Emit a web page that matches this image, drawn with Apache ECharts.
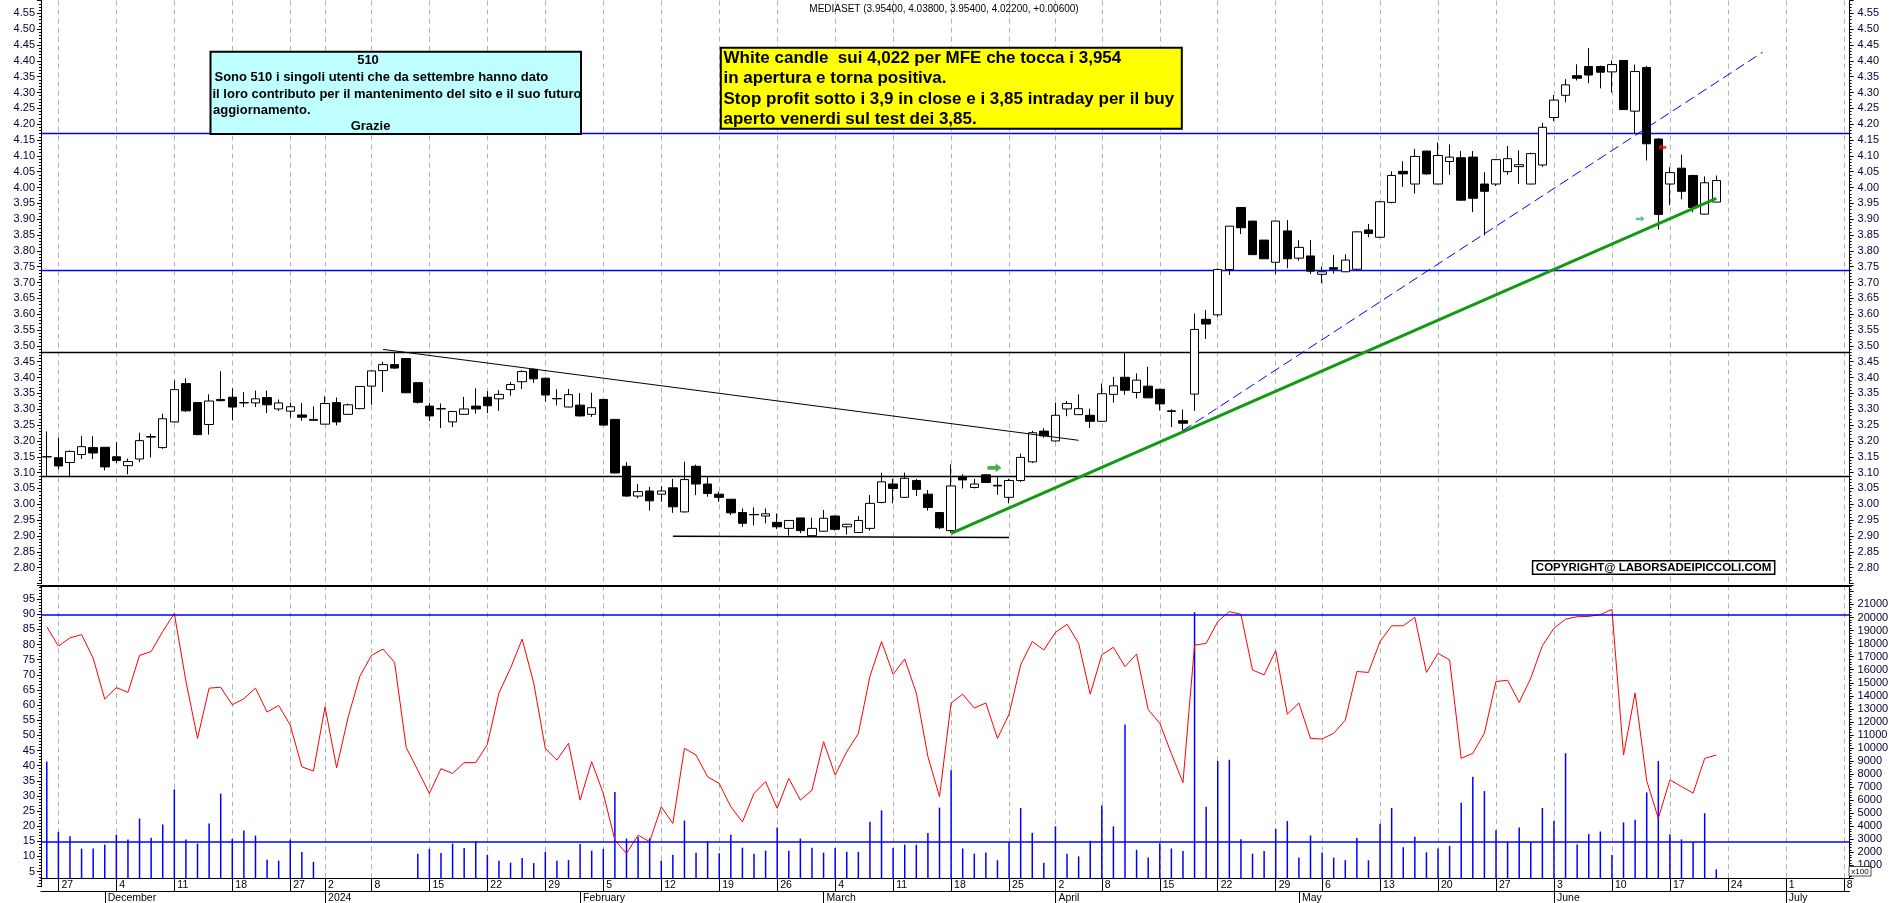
<!DOCTYPE html>
<html>
<head>
<meta charset="utf-8">
<title>MEDIASET</title>
<script src="https://cdn.jsdelivr.net/npm/echarts@6.0.0/dist/echarts.min.js"></script>
<style>
html,body{margin:0;padding:0;background:#ffffff;overflow:hidden;}
#chart{width:1890px;height:903px;}
</style>
</head>
<body>
<div id="chart"></div>
<script>
// ---------------- DATA ----------------
const dates = [
'2023-11-24','2023-11-27','2023-11-28','2023-11-29','2023-11-30',
'2023-12-01','2023-12-04','2023-12-05','2023-12-06','2023-12-07','2023-12-08',
'2023-12-11','2023-12-12','2023-12-13','2023-12-14','2023-12-15',
'2023-12-18','2023-12-19','2023-12-20','2023-12-21','2023-12-22',
'2023-12-27','2023-12-28','2023-12-29',
'2024-01-02','2024-01-03','2024-01-04','2024-01-05',
'2024-01-08','2024-01-09','2024-01-10','2024-01-11','2024-01-12',
'2024-01-15','2024-01-16','2024-01-17','2024-01-18','2024-01-19',
'2024-01-22','2024-01-23','2024-01-24','2024-01-25','2024-01-26',
'2024-01-29','2024-01-30','2024-01-31','2024-02-01','2024-02-02',
'2024-02-05','2024-02-06','2024-02-07','2024-02-08','2024-02-09',
'2024-02-12','2024-02-13','2024-02-14','2024-02-15','2024-02-16',
'2024-02-19','2024-02-20','2024-02-21','2024-02-22','2024-02-23',
'2024-02-26','2024-02-27','2024-02-28','2024-02-29','2024-03-01',
'2024-03-04','2024-03-05','2024-03-06','2024-03-07','2024-03-08',
'2024-03-11','2024-03-12','2024-03-13','2024-03-14','2024-03-15',
'2024-03-18','2024-03-19','2024-03-20','2024-03-21','2024-03-22',
'2024-03-25','2024-03-26','2024-03-27','2024-03-28',
'2024-04-02','2024-04-03','2024-04-04','2024-04-05',
'2024-04-08','2024-04-09','2024-04-10','2024-04-11','2024-04-12',
'2024-04-15','2024-04-16','2024-04-17','2024-04-18','2024-04-19',
'2024-04-22','2024-04-23','2024-04-24','2024-04-25','2024-04-26',
'2024-04-29','2024-04-30','2024-05-02','2024-05-03',
'2024-05-06','2024-05-07','2024-05-08','2024-05-09','2024-05-10',
'2024-05-13','2024-05-14','2024-05-15','2024-05-16','2024-05-17',
'2024-05-20','2024-05-21','2024-05-22','2024-05-23','2024-05-24',
'2024-05-27','2024-05-28','2024-05-29','2024-05-30','2024-05-31',
'2024-06-03','2024-06-04','2024-06-05','2024-06-06','2024-06-07',
'2024-06-10','2024-06-11','2024-06-12','2024-06-13','2024-06-14',
'2024-06-17','2024-06-18','2024-06-19','2024-06-20','2024-06-21',
'2024-06-24','2024-06-25','2024-06-26','2024-06-27','2024-06-28',
'2024-07-01','2024-07-02','2024-07-03','2024-07-04','2024-07-05',
'2024-07-08'
];

const opens = [
3.150,3.147,3.132,3.157,3.179,3.180,3.150,3.122,3.143,3.212,
3.179,3.260,3.381,3.321,3.252,3.331,3.338,3.320,3.320,3.337,
3.301,3.294,3.282,3.265,3.253,3.321,3.284,3.302,3.373,3.422,
3.441,3.460,3.384,3.310,3.302,3.260,3.284,3.310,3.338,3.333,
3.362,3.387,3.426,3.398,3.334,3.307,3.313,3.284,3.331,3.268,
3.120,3.026,3.042,3.032,3.052,2.976,3.120,3.064,3.032,3.016,
2.974,2.968,2.963,2.943,2.924,2.957,2.901,2.915,2.963,2.929,
2.911,2.924,3.006,3.064,3.022,3.075,3.032,2.974,2.917,3.088,
3.053,3.093,3.060,3.022,3.075,3.134,3.231,3.200,3.301,3.283,
3.281,3.262,3.347,3.401,3.353,3.373,3.363,3.295,3.264,3.348,
3.584,3.598,3.741,3.937,3.894,3.834,3.764,3.863,3.777,3.784,
3.726,3.747,3.734,3.742,3.866,3.843,3.953,4.051,4.011,4.115,
4.011,4.082,4.094,4.096,4.011,4.011,4.050,4.066,4.011,4.071,
4.221,4.291,4.353,4.382,4.382,4.365,4.401,4.241,4.379,4.153,
4.011,4.061,4.038,3.916,3.954
];
const highs = [
3.230,3.210,3.170,3.215,3.215,3.180,3.196,3.144,3.226,3.223,
3.286,3.392,3.398,3.321,3.347,3.420,3.366,3.354,3.359,3.359,
3.331,3.321,3.320,3.309,3.341,3.337,3.318,3.373,3.422,3.450,
3.481,3.460,3.384,3.320,3.318,3.294,3.339,3.366,3.357,3.360,
3.386,3.423,3.428,3.400,3.363,3.364,3.351,3.352,3.332,3.268,
3.133,3.064,3.055,3.057,3.080,3.134,3.125,3.087,3.040,3.016,
2.987,2.990,2.987,2.971,2.950,2.957,2.957,2.982,2.964,2.938,
2.963,3.029,3.100,3.080,3.100,3.080,3.045,2.975,3.126,3.095,
3.080,3.095,3.090,3.080,3.160,3.232,3.240,3.321,3.326,3.347,
3.302,3.381,3.402,3.478,3.413,3.434,3.365,3.300,3.299,3.602,
3.613,3.745,3.878,3.937,3.894,3.834,3.894,3.897,3.834,3.834,
3.750,3.787,3.789,3.862,3.885,3.957,4.051,4.083,4.122,4.116,
4.142,4.136,4.115,4.115,4.048,4.090,4.131,4.117,4.110,4.204,
4.292,4.342,4.389,4.440,4.385,4.401,4.402,4.388,4.384,4.155,
4.064,4.104,4.040,4.035,4.038
];
const lows = [
3.090,3.110,3.085,3.143,3.143,3.107,3.130,3.095,3.133,3.148,
3.175,3.258,3.292,3.218,3.220,3.325,3.265,3.307,3.307,3.288,
3.295,3.274,3.264,3.263,3.252,3.249,3.282,3.300,3.314,3.355,
3.427,3.352,3.318,3.263,3.241,3.244,3.282,3.286,3.288,3.295,
3.343,3.364,3.383,3.324,3.312,3.306,3.277,3.276,3.248,3.097,
3.024,3.019,2.980,3.008,2.973,2.974,3.029,3.024,3.008,2.966,
2.929,2.933,2.940,2.922,2.901,2.909,2.900,2.914,2.917,2.904,
2.910,2.917,3.003,3.003,3.020,3.026,2.980,2.922,2.910,3.050,
3.050,3.068,3.030,3.003,3.070,3.130,3.210,3.198,3.278,3.282,
3.241,3.260,3.321,3.346,3.334,3.335,3.296,3.244,3.234,3.295,
3.522,3.592,3.724,3.853,3.788,3.775,3.727,3.745,3.769,3.727,
3.698,3.728,3.733,3.740,3.843,3.840,3.950,4.002,3.981,4.040,
4.010,4.040,3.958,3.922,3.849,4.005,4.040,4.011,4.010,4.065,
4.210,4.269,4.338,4.329,4.313,4.300,4.245,4.172,4.085,3.867,
3.944,3.963,3.922,3.915,3.954
];
const closes = [
3.150,3.121,3.167,3.182,3.162,3.118,3.138,3.135,3.201,3.214,
3.270,3.362,3.295,3.220,3.326,3.327,3.307,3.321,3.333,3.314,
3.320,3.308,3.275,3.268,3.318,3.260,3.314,3.372,3.421,3.441,
3.430,3.352,3.322,3.279,3.301,3.293,3.301,3.301,3.311,3.347,
3.378,3.419,3.396,3.345,3.333,3.346,3.279,3.305,3.250,3.099,
3.026,3.040,3.011,3.042,2.992,3.078,3.064,3.034,3.022,2.973,
2.940,2.967,2.970,2.929,2.949,2.917,2.924,2.956,2.921,2.937,
2.949,3.003,3.071,3.050,3.082,3.047,2.990,2.926,3.058,3.077,
3.064,3.069,3.058,3.075,3.148,3.226,3.216,3.281,3.318,3.302,
3.262,3.349,3.374,3.360,3.392,3.336,3.317,3.293,3.256,3.552,
3.569,3.741,3.878,3.873,3.788,3.775,3.894,3.775,3.811,3.736,
3.734,3.742,3.771,3.860,3.855,3.955,4.038,4.043,4.098,4.043,
4.101,4.096,3.960,3.966,3.988,4.088,4.091,4.072,4.107,4.190,
4.276,4.324,4.345,4.355,4.364,4.388,4.246,4.366,4.138,3.915,
4.047,3.988,3.937,4.015,4.022
];

// oscillator (left scale of the lower panel)
const oscillator = [
85.9,79.5,82.2,83.3,75.5,62.0,65.8,64.2,76.4,77.7,
84.3,90.3,67.9,49.0,65.6,65.9,60.1,62.1,65.6,57.7,
59.9,53.4,39.6,38.2,59.4,39.3,56.1,69.5,76.4,78.5,
74.1,46.0,38.5,30.8,39.0,37.4,41.0,41.0,47.0,64.0,
72.2,81.8,67.3,45.7,41.8,47.4,28.6,41.3,30.8,15.4,
11.0,17.0,14.9,26.4,20.9,45.7,43.5,36.3,34.1,26.4,
21.4,30.8,34.7,25.9,35.8,28.6,31.9,47.9,36.9,44.6,
50.6,69.5,81.0,70.2,75.2,64.0,43.0,29.8,60.7,63.6,
59.0,60.7,49.0,57.0,73.3,81.0,78.2,84.0,86.7,80.4,
63.6,76.6,79.1,72.7,76.9,58.5,54.0,44.0,34.4,79.8,
80.4,87.6,90.9,90.0,71.6,70.0,78.0,57.0,60.7,49.0,
48.8,50.7,55.0,71.1,70.8,81.0,86.2,86.2,89.0,70.8,
77.1,74.9,42.4,44.1,50.7,67.8,68.2,60.9,68.9,79.6,
85.4,88.4,89.2,89.3,89.9,91.6,43.5,64.0,35.0,22.6,
35.3,33.1,30.9,42.4,43.5
];

// volume (x100, right scale of the lower panel)
const volume = [
8970,3570,3240,2290,2290,2590,3360,2980,4600,3130,
4140,6830,2980,2670,4210,6500,3030,3670,3290,1440,
1360,2980,2030,1280,null,null,null,null,null,null,
null,null,1900,2260,1950,2670,2340,2850,1820,1360,
1210,1570,1180,2030,1360,1410,2650,2130,2260,6630,
3060,3180,3080,1360,1820,4440,1980,2850,1930,3360,
2360,1900,2130,3900,2130,3060,2360,1980,2340,2050,
2050,4340,5220,2340,2590,2590,3490,5430,8300,2300,
1900,2000,1400,2800,5400,3500,1200,4000,1900,1700,
2900,5600,4000,11800,2200,1600,2700,2300,2100,20400,
5500,9000,9100,3000,1900,2100,3800,4400,1600,3300,
2000,1600,1400,3100,1400,4200,5400,2400,3200,2000,
2300,2500,5800,7800,6700,3700,2800,3900,2800,5400,
4400,9600,2600,3400,3600,1800,4300,4500,6600,9000,
3400,3000,2800,5000,700
];

const blueLevels = [4.169, 3.7355];
const blackLevels = [3.4786, 3.0943];
const oscLevels = [90, 15];

const resistanceLine = [['2024-01-09', 3.489], ['2024-04-04', 3.202]];
const supportLine = [['2024-02-13', 2.899], ['2024-03-25', 2.895]];
const greenTrend = [['2024-03-18', 2.908], ['2024-06-21', 3.966]];
const blueTrend = [['2024-04-17', 3.233], ['2024-06-27', 4.427]];

const greenArrowAt = ['2024-03-22', 3.115];
const tealArrowAt = ['2024-06-12', 3.901];
const redArrowAt = ['2024-06-14', 4.127];

const monthNames = ['January','February','March','April','May','June','July','August','September','October','November','December'];

// ---------------- BUILD ----------------
const FONT = "'Liberation Sans', Arial, Helvetica, sans-serif";
const dayNum = d => Date.UTC(+d.slice(0,4), +d.slice(5,7)-1, +d.slice(8,10)) / 86400000;
const dow = d => new Date(Date.UTC(+d.slice(0,4), +d.slice(5,7)-1, +d.slice(8,10))).getUTCDay();
const weekStart = dates.map((d, i) => i > 0 && (dow(d) < dow(dates[i-1]) || dayNum(d) - dayNum(dates[i-1]) > 6));
const monthStart = dates.map((d, i) => i > 0 && d.slice(5,7) !== dates[i-1].slice(5,7));
const wsFn = (i) => weekStart[i];
const msFn = (i) => monthStart[i];

const candleData = opens.map((o, i) => [o, closes[i], lows[i], highs[i]]);

const gridDash = { color: '#b3b3b3', type: [5, 4], width: 1 };
const labelColor = '#000033';

const arrowPath = 'path://M0,3L7,3L7,0L12,5L7,10L7,7L0,7Z';

const option = {
  animation: false,
  backgroundColor: '#ffffff',
  grid: [
    { left: 41, right: 40.4, top: 0.6, height: 582.9, containLabel: false, outerBoundsMode: 'none' },
    { left: 41, right: 40.4, top: 585.3, height: 301.4, containLabel: false, outerBoundsMode: 'none' },
    { left: 41, right: 40.4, top: 585.3, height: 293.2, containLabel: false, outerBoundsMode: 'none' }
  ],
  xAxis: [
    { gridIndex: 0, type: 'category', data: dates, boundaryGap: true,
      axisLine: { show: false, onZero: false }, axisTick: { show: false }, axisLabel: { show: false },
      splitLine: { show: true, interval: wsFn, alignWithLabel: true, lineStyle: gridDash } },
    { gridIndex: 1, type: 'category', data: dates, boundaryGap: true, show: false,
      axisLine: { show: false, onZero: false } },
    { gridIndex: 2, type: 'category', data: dates, boundaryGap: true, position: 'bottom',
      axisLine: { show: true, onZero: false, lineStyle: { color: '#000', width: 1 } },
      axisTick: { show: true, interval: wsFn, alignWithLabel: true, length: 12.5, lineStyle: { color: '#000' } },
      axisLabel: { show: true, interval: wsFn, formatter: (v) => String(+v.slice(8,10)), align: 'left',
        padding: [0,0,0,3], margin: 1, fontSize: 10.5, fontFamily: FONT, color: '#000' },
      splitLine: { show: true, interval: wsFn, alignWithLabel: true, lineStyle: gridDash } },
    { gridIndex: 2, type: 'category', data: dates, boundaryGap: true, position: 'bottom', offset: 12.5,
      axisLine: { show: true, onZero: false, lineStyle: { color: '#000', width: 1 } },
      axisTick: { show: true, interval: msFn, alignWithLabel: true, length: 12, lineStyle: { color: '#000' } },
      axisLabel: { show: true, interval: msFn, align: 'left', padding: [0,0,0,3], margin: 2,
        fontSize: 10.5, fontFamily: FONT, color: '#000',
        formatter: (v) => v.slice(5,7) === '01' ? v.slice(0,4) : monthNames[+v.slice(5,7) - 1] },
      splitLine: { show: false } },
    { gridIndex: 2, type: 'category', data: dates, boundaryGap: true, position: 'top',
      axisLine: { show: true, onZero: false, lineStyle: { color: '#000', width: 2 } },
      axisTick: { show: false }, axisLabel: { show: false }, splitLine: { show: false } }
  ],
  yAxis: [
    { gridIndex: 0, type: 'value', position: 'left', min: 2.75, max: 4.59, interval: 0.05,
      axisLine: { show: true, onZero: false, lineStyle: { color: '#000' } },
      axisTick: { show: true, length: 4, lineStyle: { color: '#000' } },
      minorTick: { show: true, splitNumber: 5, length: 2, lineStyle: { color: '#000' } },
      splitLine: { show: false },
      axisLabel: { showMinLabel: false, showMaxLabel: false, margin: 6, fontSize: 11, fontFamily: FONT,
        color: labelColor, formatter: (v) => v.toFixed(2) } },
    { gridIndex: 0, type: 'value', position: 'right', min: 2.75, max: 4.59, interval: 0.05,
      axisLine: { show: true, onZero: false, lineStyle: { color: '#000' } },
      axisTick: { show: true, length: 4, lineStyle: { color: '#000' } },
      minorTick: { show: true, splitNumber: 5, length: 2, lineStyle: { color: '#000' } },
      splitLine: { show: false },
      axisLabel: { showMinLabel: false, showMaxLabel: false, margin: 8, fontSize: 11, fontFamily: FONT,
        color: labelColor, formatter: (v) => v.toFixed(2) } },
    { gridIndex: 1, type: 'value', position: 'left', min: 0, max: 99.58, interval: 5,
      axisLine: { show: true, onZero: false, lineStyle: { color: '#000' } },
      axisTick: { show: true, length: 4, lineStyle: { color: '#000' } },
      minorTick: { show: true, splitNumber: 5, length: 2, lineStyle: { color: '#000' } },
      splitLine: { show: false },
      axisLabel: { showMinLabel: false, showMaxLabel: false, margin: 6, fontSize: 11, fontFamily: FONT,
        color: labelColor, formatter: (v) => String(Math.round(v)) } },
    { gridIndex: 2, type: 'value', position: 'right', min: 0, max: 22468, interval: 1000,
      axisLine: { show: true, onZero: false, lineStyle: { color: '#000' } },
      axisTick: { show: true, length: 4, lineStyle: { color: '#000' } },
      minorTick: { show: true, splitNumber: 5, length: 2, lineStyle: { color: '#000' } },
      splitLine: { show: false },
      axisLabel: { showMinLabel: false, showMaxLabel: false, margin: 8, fontSize: 11, fontFamily: FONT,
        color: labelColor, formatter: (v) => (v >= 1000 && v <= 21000) ? String(Math.round(v)) : '' } }
  ],
  series: [
    { name: 'MEDIASET', type: 'candlestick', xAxisIndex: 0, yAxisIndex: 0, data: candleData, barWidth: 9, z: 5,
      itemStyle: { color: '#ffffff', color0: '#000000', borderColor: '#000000', borderColor0: '#000000',
        borderColorDoji: '#000000', borderWidth: 1 },
      markLine: { silent: true, symbol: ['none', 'none'], label: { show: false }, animation: false,
        data: [
          ...blueLevels.map(v => ({ yAxis: v, lineStyle: { color: '#0000ff', width: 1.3, type: 'solid' } })),
          ...blackLevels.map(v => ({ yAxis: v, lineStyle: { color: '#000000', width: 1.3, type: 'solid' } }))
        ] } },
    { name: 'resistance', type: 'line', xAxisIndex: 0, yAxisIndex: 0, data: resistanceLine, symbol: 'none', z: 6,
      lineStyle: { color: '#000', width: 1 } },
    { name: 'support', type: 'line', xAxisIndex: 0, yAxisIndex: 0, data: supportLine, symbol: 'none', z: 6,
      lineStyle: { color: '#000', width: 1.5 } },
    { name: 'green trend', type: 'line', xAxisIndex: 0, yAxisIndex: 0, data: greenTrend, symbol: 'none', z: 7,
      lineStyle: { color: '#139a13', width: 3 } },
    { name: 'blue trend', type: 'line', xAxisIndex: 0, yAxisIndex: 0, data: blueTrend, symbol: 'none', z: 7,
      lineStyle: { color: '#0000ff', width: 1, type: [10, 5] } },
    { name: 'arrows', type: 'scatter', xAxisIndex: 0, yAxisIndex: 0, z: 8, silent: true,
      data: [
        { value: greenArrowAt, symbol: arrowPath, symbolSize: [14, 9], symbolOffset: [-3, 0], symbolKeepAspect: false,
          itemStyle: { color: '#1a9a1a' } },
        { value: tealArrowAt, symbol: arrowPath, symbolSize: [9, 6], symbolOffset: [5, 0], symbolKeepAspect: false,
          itemStyle: { color: '#3cb37a' } },
        { value: redArrowAt, symbol: arrowPath, symbolSize: [8, 7], symbolRotate: 180, symbolOffset: [4, 0], symbolKeepAspect: false,
          itemStyle: { color: '#ff0000' } }
      ] },
    { name: 'volume', type: 'bar', xAxisIndex: 2, yAxisIndex: 3, data: volume, barWidth: 1.5, z: 3,
      itemStyle: { color: '#0000ff' } },
    { name: 'oscillator', type: 'line', xAxisIndex: 1, yAxisIndex: 2, data: oscillator, symbol: 'none', z: 4,
      lineStyle: { color: '#ff0000', width: 1 },
      markLine: { silent: true, symbol: ['none', 'none'], label: { show: false }, animation: false,
        data: oscLevels.map(v => ({ yAxis: v, lineStyle: { color: '#0000ff', width: 1.5, type: 'solid' } })) } }
  ],
  graphic: [
    { type: 'text', x: 944, y: 9, z: 100, style: { text: 'MEDIASET (3.95400, 4.03800, 3.95400, 4.02200, +0.00600)',
      fontSize: 10, fontFamily: FONT, fill: '#000', align: 'center', verticalAlign: 'middle' } },
    { type: 'rect', z: 100, shape: { x: 210.5, y: 51.7, width: 370.5, height: 82.3 },
      style: { fill: '#c0ffff', stroke: '#000', lineWidth: 2 } },
    { type: 'text', z: 101, x: 368, y: 60.5, style: { text: '510', fontSize: 13, fontWeight: 'bold', fontFamily: FONT, fill: '#000', align: 'center', verticalAlign: 'middle' } },
    { type: 'text', z: 101, x: 214.5, y: 77, style: { text: 'Sono 510 i singoli utenti che da settembre hanno dato', fontSize: 13, fontWeight: 'bold', fontFamily: FONT, fill: '#000', align: 'left', verticalAlign: 'middle' } },
    { type: 'text', z: 101, x: 212.5, y: 94, style: { text: 'il loro contributo per il mantenimento del sito e il suo futuro', fontSize: 13, fontWeight: 'bold', fontFamily: FONT, fill: '#000', align: 'left', verticalAlign: 'middle' } },
    { type: 'text', z: 101, x: 213, y: 110.5, style: { text: 'aggiornamento.', fontSize: 13, fontWeight: 'bold', fontFamily: FONT, fill: '#000', align: 'left', verticalAlign: 'middle' } },
    { type: 'text', z: 101, x: 370.5, y: 126.7, style: { text: 'Grazie', fontSize: 13, fontWeight: 'bold', fontFamily: FONT, fill: '#000', align: 'center', verticalAlign: 'middle' } },
    { type: 'rect', z: 100, shape: { x: 720.8, y: 47.7, width: 461, height: 81 },
      style: { fill: '#ffff00', stroke: '#000', lineWidth: 2 } },
    { type: 'text', z: 101, x: 723.5, y: 58, style: { text: 'White candle  sui 4,022 per MFE che tocca i 3,954', fontSize: 17, fontWeight: 'bold', fontFamily: FONT, fill: '#000', align: 'left', verticalAlign: 'middle' } },
    { type: 'text', z: 101, x: 723.5, y: 78.5, style: { text: 'in apertura e torna positiva.', fontSize: 17, fontWeight: 'bold', fontFamily: FONT, fill: '#000', align: 'left', verticalAlign: 'middle' } },
    { type: 'text', z: 101, x: 723.5, y: 99, style: { text: 'Stop profit sotto i 3,9 in close e i 3,85 intraday per il buy', fontSize: 17, fontWeight: 'bold', fontFamily: FONT, fill: '#000', align: 'left', verticalAlign: 'middle' } },
    { type: 'text', z: 101, x: 723.5, y: 119.3, style: { text: 'aperto venerdi sul test dei 3,85.', fontSize: 17, fontWeight: 'bold', fontFamily: FONT, fill: '#000', align: 'left', verticalAlign: 'middle' } },
    { type: 'rect', z: 100, shape: { x: 1532.6, y: 560.7, width: 242.1, height: 13.6 },
      style: { fill: '#ffffff', stroke: '#000', lineWidth: 1.5 } },
    { type: 'text', z: 101, x: 1653.6, y: 567.7, style: { text: 'COPYRIGHT@ LABORSADEIPICCOLI.COM', fontSize: 11.5, fontWeight: 'bold', fontFamily: FONT, fill: '#000', align: 'center', verticalAlign: 'middle' } },
    { type: 'rect', z: 100, shape: { x: 1849, y: 866.5, width: 22, height: 9.5 },
      style: { fill: '#ffffff', stroke: '#000', lineWidth: 0.7 } },
    { type: 'text', z: 101, x: 1860, y: 871.5, style: { text: 'x100', fontSize: 8, fontFamily: FONT, fill: '#000', align: 'center', verticalAlign: 'middle' } }
  ]
};

const chart = echarts.init(document.getElementById('chart'), null, { renderer: 'canvas', width: 1890, height: 903 });
chart.setOption(option);
</script>
</body>
</html>
